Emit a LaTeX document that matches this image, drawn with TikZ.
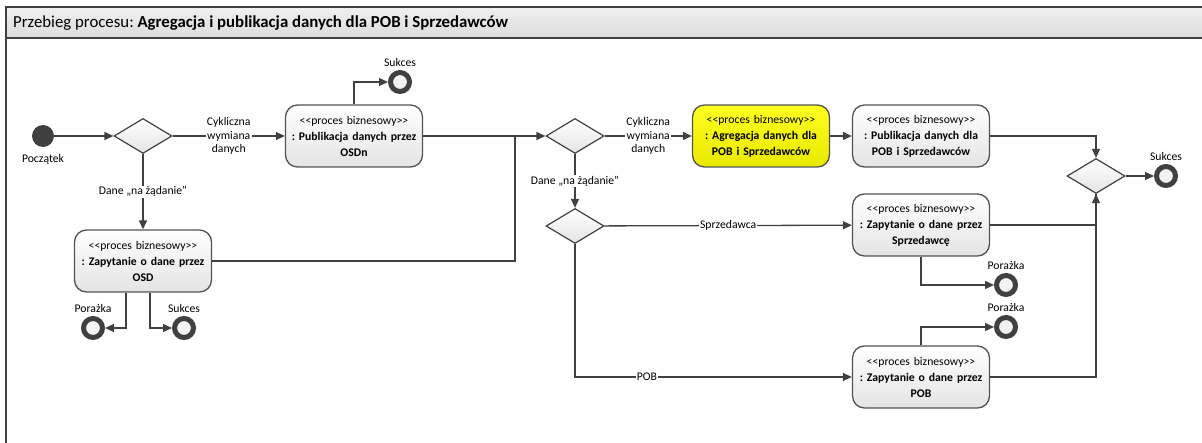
\documentclass[tikz,border=0pt]{standalone}
\usepackage{fontspec}
\setmainfont{Carlito}
\usetikzlibrary{shapes.geometric,arrows.meta}
\definecolor{ln}{HTML}{404040}
\definecolor{hdtop}{HTML}{F0F0F0}
\definecolor{hdbot}{HTML}{DCDCDC}
\definecolor{boxbot}{HTML}{E4E4E4}
\definecolor{ringin}{HTML}{F2F2F2}
\definecolor{yeltop}{HTML}{FFFF20}
\definecolor{yelbot}{HTML}{E8E800}
\newcommand{\lblfont}{\fontsize{11.7}{13.5}\selectfont}
\newcommand{\boxfont}{\fontsize{11.7}{16}\selectfont}
\newcommand{\stereo}{<{}<proces biznesowy>{}>}
\frenchspacing
\tikzset{
  conn/.style={draw=ln, line width=1.3pt},
  arr/.style={conn, -{Triangle[length=9pt,width=8pt]}},
  procbox/.style={draw=ln!90, line width=1.3pt, rounded corners=12pt, top color=white, bottom color=boxbot,
    minimum width=137pt, minimum height=62pt, text width=130pt, align=center, font=\boxfont, inner sep=2pt},
  yelbox/.style={procbox, top color=yeltop, bottom color=yelbot},
  decision/.style={diamond, draw=ln, line width=1.2pt, top color=white, bottom color=boxbot,
    minimum width=58pt, minimum height=35pt, inner sep=0pt},
  startnode/.style={circle, fill=ln, minimum size=22pt, inner sep=0pt},
  ring/.style={circle, draw=ln, line width=5pt, fill=ringin, minimum size=19pt, inner sep=0pt},
  lbl/.style={fill=white, inner sep=1pt, font=\lblfont, align=center},
  ringlbl/.style={font=\lblfont, inner sep=0pt},
}
\begin{document}
\frenchspacing
\begin{tikzpicture}[x=1pt,y=-1pt]
\useasboundingbox (0,0) rectangle (1202,443);
% frame header
\fill[top color=hdtop, bottom color=hdbot] (6,7) rectangle (1203,38);
\draw[ln, line width=2pt] (1203,7) -- (6,7) -- (6,444);
\draw[ln, line width=2pt] (6,38) -- (1203,38);
\node[anchor=west, inner sep=0pt, font=\fontsize{16.8}{19}\selectfont] (title) at (13,23)
  {Przebieg procesu: \textbf{Agregacja i publikacja danych dla POB i Sprzedawców}};

% nodes
\node[startnode, label={[ringlbl, label distance=7pt]below:Początek}] (start) at (43,136) {};
\node[decision] (d1) at (143,136) {};
\node[procbox] (osdn) at (354,136) {\stereo\\\textbf{: Publikacja danych przez}\\\textbf{OSDn}};
\node[ring, label={[ringlbl, label distance=3pt]above:Sukces}] (s1) at (400,82) {};
\node[procbox] (osd) at (143,261) {\stereo\\\textbf{: Zapytanie o dane przez}\\\textbf{OSD}};
\node[ring, label={[ringlbl, label distance=3pt]above:Porażka}] (f1) at (93,328) {};
\node[ring, label={[ringlbl, label distance=3pt]above:Sukces}] (s2) at (184,328) {};
\coordinate (j1) at (515,136);
\node[decision] (d2) at (575,136) {};
\node[yelbox] (agg) at (761,136) {\stereo\\\textbf{: Agregacja danych dla}\\\textbf{POB i Sprzedawców}};
\node[procbox] (pub) at (921,136) {\stereo\\\textbf{: Publikacja danych dla}\\\textbf{POB i Sprzedawców}};
\node[decision] (d3) at (1096,176) {};
\node[ring, label={[ringlbl, label distance=3pt]above:Sukces}] (s3) at (1166,176) {};
\node[decision] (d4) at (575,226) {};
\node[procbox] (sprz) at (921,225) {\stereo\\\textbf{: Zapytanie o dane przez}\\\textbf{Sprzedawcę}};
\node[ring, label={[ringlbl, label distance=3pt]above:Porażka}] (f2) at (1006,285) {};
\node[ring, label={[ringlbl, label distance=3pt]above:Porażka}] (f3) at (1006,327) {};
\node[procbox] (pob) at (921,377) {\stereo\\\textbf{: Zapytanie o dane przez}\\\textbf{POB}};

% connectors
\draw[arr] (start) -- (d1);
\draw[arr] (d1) -- node[lbl]{Cykliczna\\wymiana\\danych} (osdn);
\draw[arr] (d1) -- node[lbl]{Dane „na żądanie”} (osd);
\draw[arr] (osdn.north) |- (s1);
\draw[arr] ([xshift=-17pt]osd.south) |- (f1);
\draw[arr] ([xshift=7pt]osd.south) |- (s2);
\draw[conn] (osd.east) -| (j1);
\draw[arr] (osdn) -- (d2);
\draw[arr] (d2) -- node[lbl]{Cykliczna\\wymiana\\danych} (agg);
\draw[arr] (agg) -- (pub);
\draw[arr] (pub) -| (d3);
\draw[arr] (d3) -- (s3);
\draw[arr] (d2) -- node[lbl]{Dane „na żądanie”} (d4);
\draw[arr] (d4) -- node[lbl]{Sprzedawca} (sprz);
\draw[arr] (d4) |- node[lbl, pos=0.63]{POB} (pob);
\draw[conn] (sprz) -| (d3);
\draw[arr] (pob) -| (d3);
\draw[arr] (sprz.south) |- (f2);
\draw[arr] (pob.north) |- (f3);
\end{tikzpicture}
\end{document}
